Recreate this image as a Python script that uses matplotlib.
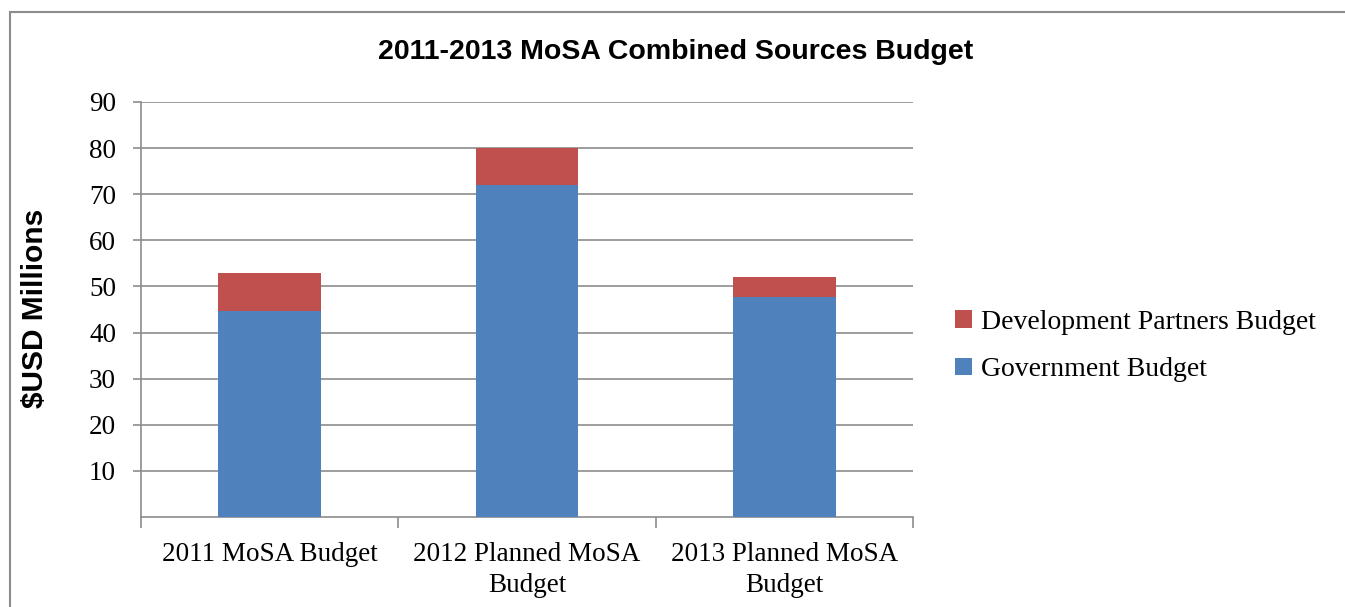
import matplotlib
matplotlib.use("Agg")
import matplotlib.pyplot as plt
from matplotlib.patches import Rectangle

categories = ["2011 MoSA Budget", "2012 Planned MoSA\nBudget", "2013 Planned MoSA\nBudget"]
government = [44.6, 72.0, 47.7]
development = [8.4, 8.0, 4.3]
yticks = [10, 20, 30, 40, 50, 60, 70, 80, 90]

BLUE = "#4F81BD"
RED = "#C0504D"
GRID = "#8C8C8C"
serif = ["Liberation Serif", "DejaVu Serif"]

fig = plt.figure(figsize=(13.45, 6.07), dpi=100)
fig.patches.append(Rectangle((10/1345, -0.1), 1.2, 1 - 12/607 + 0.1, transform=fig.transFigure,
                             fill=False, edgecolor="#8C8C8C", linewidth=1.5))
ax = fig.add_axes([141/1345, 1 - 517/607, (913-141)/1345, (517-102)/607])

x = list(range(len(categories)))
ax.bar(x, government, width=0.4, color=BLUE, label="Government Budget", zorder=3)
ax.bar(x, development, width=0.4, bottom=government, color=RED,
       label="Development Partners Budget", zorder=3)

ax.set_xlim(-0.5, 2.5)
ax.set_ylim(0, 90)
ax.set_yticks(yticks)
ax.set_yticklabels([str(v) for v in yticks], fontfamily=serif, fontsize=19.5)
ax.yaxis.grid(True, color=GRID, linewidth=1.2, zorder=0)
ax.set_axisbelow(True)

ax.set_xticks([-0.5, 0.5, 1.5, 2.5])
ax.set_xticklabels([])
ax.set_xticks(x, minor=True)
ax.set_xticklabels(categories, minor=True, fontfamily=serif, fontsize=19.5, linespacing=1.3)
ax.tick_params(axis="x", which="minor", length=0, pad=18)
ax.tick_params(axis="x", which="major", length=8, color=GRID, width=1.2)
ax.tick_params(axis="y", length=6, color=GRID, width=1.2, pad=12)

for s in ["top", "right"]:
    ax.spines[s].set_visible(False)
ax.spines["left"].set_color(GRID)
ax.spines["bottom"].set_color(GRID)
ax.spines["left"].set_linewidth(1.2)
ax.spines["bottom"].set_linewidth(1.2)

fig.text(676/1345, 1 - 52/607, "2011-2013 MoSA Combined Sources Budget", ha="center", va="center",
         fontfamily="Liberation Sans", fontweight="bold", fontsize=20.5)
fig.text(35/1345, 1 - 308/607, "\\$USD Millions", ha="center", va="center", rotation=90,
         fontfamily="Liberation Sans", fontweight="bold", fontsize=21.5)

handles, labels = ax.get_legend_handles_labels()
leg = fig.legend(handles[::-1], labels[::-1], loc="center left", bbox_to_anchor=(930/1345, 1 - 346/607),
                 frameon=False, prop={"family": serif, "size": 20}, handlelength=0.6, handleheight=0.6,
                 handletextpad=0.35, labelspacing=0.8)

fig.savefig("out.png", dpi=100)
